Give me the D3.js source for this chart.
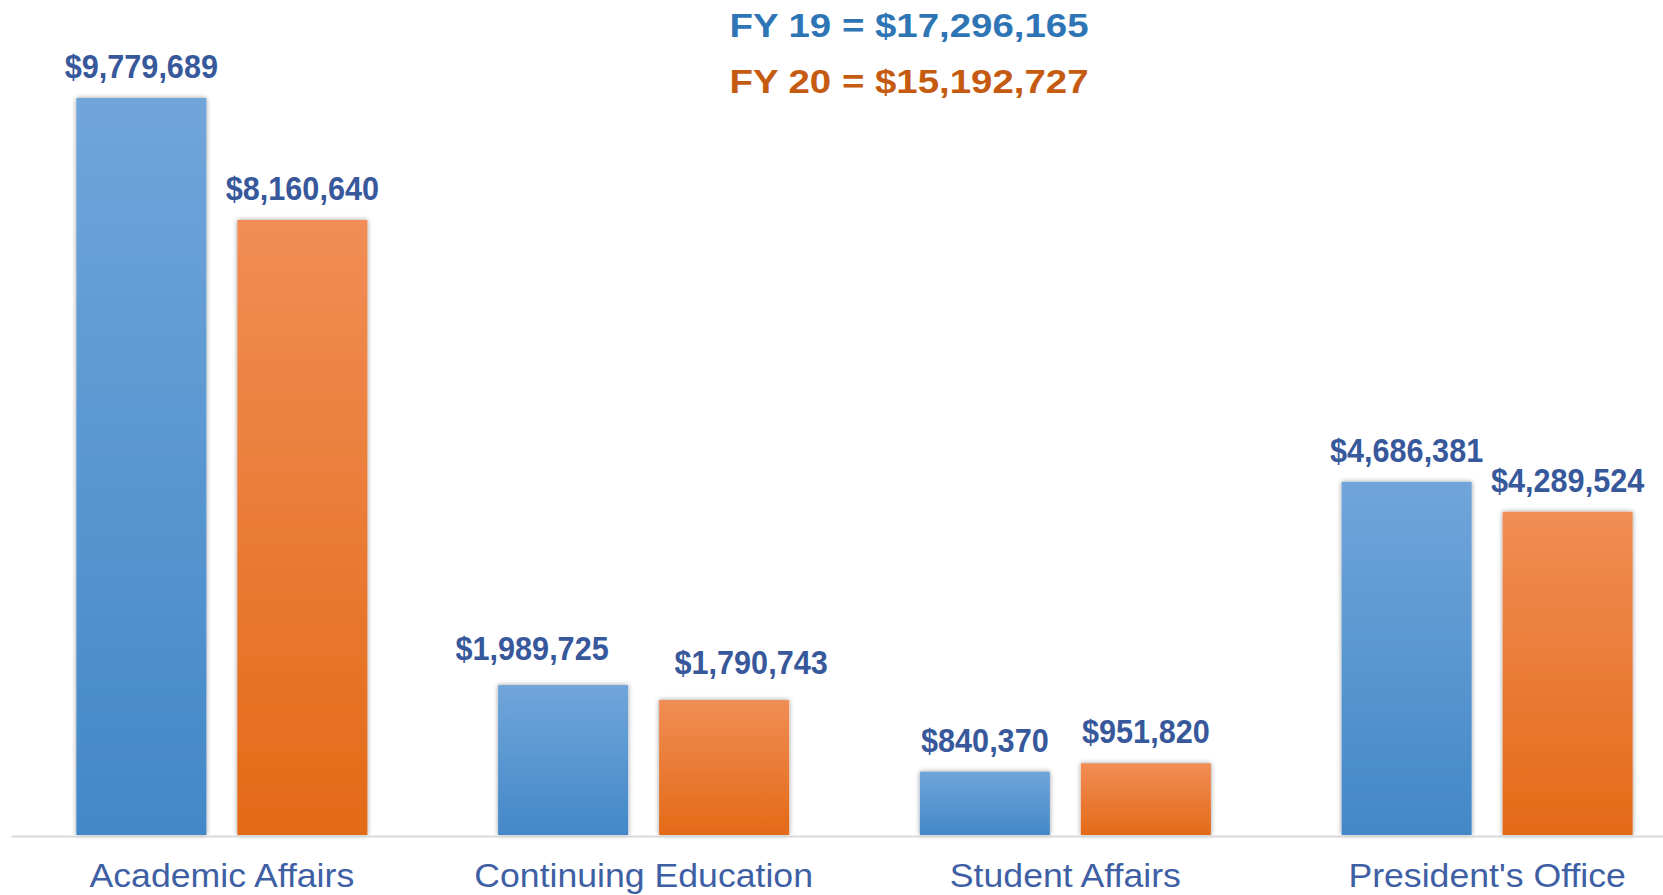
<!DOCTYPE html>
<html>
<head>
<meta charset="utf-8">
<script src="https://cdn.jsdelivr.net/npm/d3@7"></script>
<style>
  body { margin: 0; background: #ffffff; }
  svg { display: block; }
</style>
</head>
<body>
<script>
// chart values
var categories = ["Academic Affairs", "Continuing Education", "Student Affairs", "President's Office"];
var seriesNames = ["FY 19", "FY 20"];
var fy19 = [9779689, 1989725, 840370, 4686381];
var fy20 = [8160640, 1790743, 951820, 4289524];
var totals = [17296165, 15192727];

// hand-moved labels in the original (pixel nudges, per series)
var labelNudge = { "Continuing Education": [[-31, -5], [27, -6]] };

var widthSvg = 1663;
var heightSvg = 895;
var baseY = 835;
var font = "'Liberation Sans', Arial, sans-serif";
var fmt = d3.format("$,");

var svg = d3.select("body")
  .append("svg")
  .attr("width", widthSvg)
  .attr("height", heightSvg);

// gradients and shadow
var defs = svg.append("defs");
var grads = [
  { id: "g19", top: "#70a5da", bottom: "#4388c8" },
  { id: "g20", top: "#f18d55", bottom: "#e36a17" }
];
grads.forEach(function(g) {
  var lg = defs.append("linearGradient")
    .attr("id", g.id)
    .attr("x1", 0).attr("y1", 0).attr("x2", 0).attr("y2", 1);
  lg.append("stop").attr("offset", "0%").attr("stop-color", g.top);
  lg.append("stop").attr("offset", "100%").attr("stop-color", g.bottom);
});
defs.append("filter")
  .attr("id", "shadow")
  .attr("x", "-20%").attr("y", "-20%").attr("width", "140%").attr("height", "140%")
  .append("feDropShadow")
  .attr("dx", 0).attr("dy", 0)
  .attr("stdDeviation", 2.5)
  .attr("flood-color", "#000")
  .attr("flood-opacity", 0.4);

// scales
var x0 = d3.scaleBand()
  .domain(categories)
  .range([11, 1698])
  .paddingInner(0);

var x1 = d3.scaleBand()
  .domain(seriesNames)
  .range([0, x0.bandwidth()])
  .paddingInner(0.1925)
  .paddingOuter(0.406);

var y = d3.scaleLinear()
  .domain([0, 10000000])
  .range([baseY, baseY - 753.6]);

var rows = categories.map(function(c, i) {
  return { cat: c, values: [fy19[i], fy20[i]] };
});

// bars
var groups = svg.selectAll("g.group")
  .data(rows)
  .enter()
  .append("g")
  .attr("class", "group")
  .attr("transform", function(d) { return "translate(" + x0(d.cat) + ",0)"; });

groups.selectAll("rect")
  .data(function(d) {
    return d.values.map(function(v, k) { return { cat: d.cat, series: seriesNames[k], k: k, value: v }; });
  })
  .enter()
  .append("rect")
  .attr("x", function(d) { return x1(d.series); })
  .attr("y", function(d) { return y(d.value); })
  .attr("width", x1.bandwidth())
  .attr("height", function(d) { return baseY - y(d.value); })
  .attr("fill", function(d) { return d.k === 0 ? "url(#g19)" : "url(#g20)"; })
  .attr("filter", "url(#shadow)");

// axis with category names
var axis = svg.append("g")
  .attr("transform", "translate(0," + (baseY + 1) + ")")
  .call(d3.axisBottom(x0).tickSize(0));
axis.select(".domain")
  .attr("stroke", "#d9d9d9")
  .attr("stroke-width", 2);
axis.selectAll("text")
  .attr("y", 51)
  .attr("dy", 0)
  .attr("transform", "scale(1.08,1)")
  .attr("font-family", font)
  .attr("font-size", 33)
  .attr("fill", "#3f5fa5");

// value labels
groups.selectAll("g.vlabel")
  .data(function(d) {
    return d.values.map(function(v, k) { return { cat: d.cat, series: seriesNames[k], k: k, value: v }; });
  })
  .enter()
  .append("g")
  .attr("class", "vlabel")
  .attr("transform", function(d) {
    var n = labelNudge[d.cat] ? labelNudge[d.cat][d.k] : [0, 0];
    var cx = x1(d.series) + x1.bandwidth() / 2 + n[0];
    return "translate(" + cx + "," + (y(d.value) - 20 + n[1]) + ")";
  })
  .append("text")
  .attr("text-anchor", "middle")
  .attr("transform", "scale(0.9,1)")
  .attr("font-family", font)
  .attr("font-weight", "bold")
  .attr("font-size", 34)
  .attr("fill", "#37589b")
  .text(function(d) { return fmt(d.value); });

// totals at the top
var titleColors = ["#2e75b6", "#c55a11"];
var titleY = [37, 93];
seriesNames.forEach(function(s, i) {
  svg.append("g")
    .attr("transform", "translate(909," + titleY[i] + ")")
    .append("text")
    .attr("text-anchor", "middle")
    .attr("transform", "scale(1.13,1)")
    .attr("font-family", font)
    .attr("font-weight", "bold")
    .attr("font-size", 34)
    .attr("fill", titleColors[i])
    .text(s + " = " + fmt(totals[i]));
});
</script>
</body>
</html>
